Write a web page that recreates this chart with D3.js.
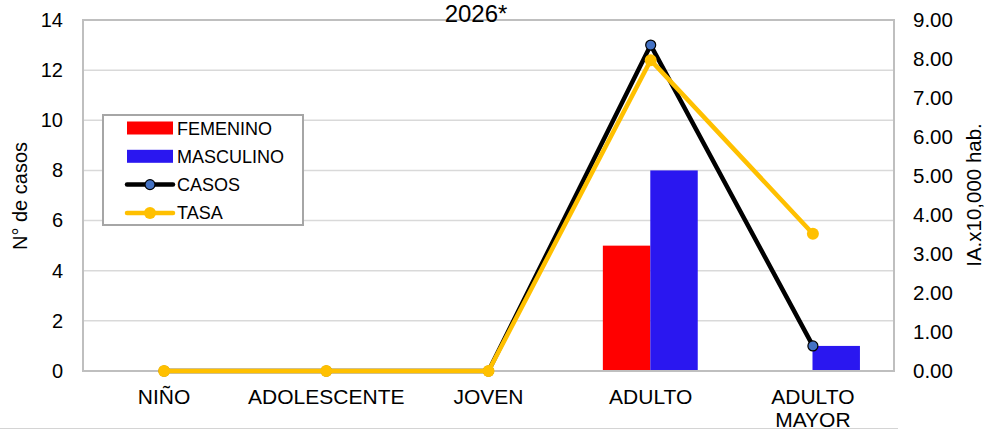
<!DOCTYPE html>
<html>
<head>
  <meta charset="utf-8">
  <script src="https://d3js.org/d3.v7.min.js"></script>
  <style>
    body { margin: 0; background: #fff; }
    text { font-family: Arial, "Liberation Sans", sans-serif; fill: #000; }
  </style>
</head>
<body>
<script>
  // data
  var categories = ["NIÑO", "ADOLESCENTE", "JOVEN", "ADULTO", "ADULTO MAYOR"];
  var femenino  = [0, 0, 0, 5, 0];
  var masculino = [0, 0, 0, 8, 1];
  var casos     = [0, 0, 0, 13, 1];
  var tasa      = [0, 0, 0, 7.97, 3.52];
  var leftTicks  = [0, 2, 4, 6, 8, 10, 12, 14];
  var rightTicks = [0, 1, 2, 3, 4, 5, 6, 7, 8, 9];

  var W = 990, H = 430;
  var plot = {left: 83, top: 20, right: 894, bottom: 371};

  var svg = d3.select("body").append("svg")
      .attr("width", W).attr("height", H);

  var x = d3.scaleBand().domain(categories).range([plot.left, plot.right]).padding(0);
  var bw = x.bandwidth();
  var x1 = d3.scaleBand().domain(["FEMENINO", "MASCULINO"]).range([bw * 0.205, bw * 0.79]);
  var y = d3.scaleLinear().domain([0, 14]).range([plot.bottom, plot.top]);
  var y2 = d3.scaleLinear().domain([0, 9]).range([plot.bottom, plot.top]);

  // faint sheet border at the bottom
  svg.append("line").attr("x1", 0).attr("x2", 898).attr("y1", 428.5).attr("y2", 428.5)
      .attr("stroke", "#d4d4d4").attr("stroke-width", 1);

  // gridlines
  svg.append("g").selectAll("line").data(leftTicks.slice(1, -1)).join("line")
      .attr("x1", plot.left).attr("x2", plot.right)
      .attr("y1", d => y(d)).attr("y2", d => y(d))
      .attr("stroke", "#d9d9d9").attr("stroke-width", 1.5);

  // bars
  var colors = {FEMENINO: "#ff0000", MASCULINO: "#2a17f0"};
  var bars = [];
  categories.forEach(function (c, i) {
    bars.push({cat: c, key: "FEMENINO", v: femenino[i]});
    bars.push({cat: c, key: "MASCULINO", v: masculino[i]});
  });
  svg.append("g").selectAll("rect").data(bars.filter(d => d.v > 0)).join("rect")
      .attr("x", d => x(d.cat) + x1(d.key))
      .attr("width", x1.bandwidth())
      .attr("y", d => y(d.v))
      .attr("height", d => y(0) - y(d.v))
      .attr("fill", d => colors[d.key]);

  // plot border
  svg.append("rect")
      .attr("x", plot.left).attr("y", plot.top)
      .attr("width", plot.right - plot.left).attr("height", plot.bottom - plot.top)
      .attr("fill", "none").attr("stroke", "#bfbfbf").attr("stroke-width", 2);

  // left axis
  var gl = svg.append("g").attr("transform", "translate(" + plot.left + ",0)")
      .call(d3.axisLeft(y).tickValues(leftTicks).tickSize(0).tickPadding(20));
  gl.select(".domain").remove();
  gl.selectAll("text").style("font-size", "20px");

  // right axis
  var gr = svg.append("g").attr("transform", "translate(" + plot.right + ",0)")
      .call(d3.axisRight(y2).tickValues(rightTicks).tickSize(0).tickPadding(19).tickFormat(d3.format(".2f")));
  gr.select(".domain").remove();
  gr.selectAll("text").style("font-size", "20.5px");

  // category labels
  var gx = svg.append("g");
  categories.forEach(function (c) {
    var t = gx.append("text").attr("x", x(c) + bw / 2).attr("y", 404)
        .attr("text-anchor", "middle").style("font-size", "21px");
    var parts = c.split(" ");
    parts.forEach(function (p, j) {
      t.append("tspan").attr("x", x(c) + bw / 2).attr("dy", j === 0 ? 0 : 23).text(p);
    });
  });

  // axis titles
  svg.append("text").attr("transform", "translate(27,196) rotate(-90)")
      .attr("text-anchor", "middle").style("font-size", "20px").text("N° de casos");
  svg.append("text").attr("transform", "translate(981,195) rotate(-90)")
      .attr("text-anchor", "middle").style("font-size", "20.5px").text("IA.x10,000 hab.");

  // title
  svg.append("text").attr("x", 476).attr("y", 22).attr("text-anchor", "middle")
      .style("font-size", "24px").text("2026*");

  // lines
  var cx = d => x(d.cat) + bw / 2;
  var casosPts = categories.map((c, i) => ({cat: c, v: casos[i]}));
  var tasaPts = categories.map((c, i) => ({cat: c, v: tasa[i]}));

  svg.append("path").datum(casosPts)
      .attr("d", d3.line().x(cx).y(d => y(d.v)))
      .attr("fill", "none").attr("stroke", "#000").attr("stroke-width", 4.5);
  svg.append("g").selectAll("circle").data(casosPts).join("circle")
      .attr("cx", cx).attr("cy", d => y(d.v)).attr("r", 5)
      .attr("fill", "#4472c4").attr("stroke", "#000").attr("stroke-width", 1.2);

  svg.append("path").datum(tasaPts)
      .attr("d", d3.line().x(cx).y(d => y2(d.v)))
      .attr("fill", "none").attr("stroke", "#ffc000").attr("stroke-width", 4.5);
  svg.append("g").selectAll("circle").data(tasaPts).join("circle")
      .attr("cx", cx).attr("cy", d => y2(d.v)).attr("r", 6)
      .attr("fill", "#ffc000");

  // legend
  var lg = svg.append("g");
  lg.append("rect").attr("x", 103).attr("y", 115).attr("width", 200).attr("height", 110)
      .attr("fill", "#fff").attr("stroke", "#a6a6a6").attr("stroke-width", 2);
  var items = [
    {name: "FEMENINO", type: "bar", color: colors.FEMENINO},
    {name: "MASCULINO", type: "bar", color: colors.MASCULINO},
    {name: "CASOS", type: "line", color: "#000", marker: "#4472c4"},
    {name: "TASA", type: "line", color: "#ffc000", marker: "#ffc000"}
  ];
  items.forEach(function (it, i) {
    var cy = 128 + i * 28.3;
    if (it.type === "bar") {
      lg.append("rect").attr("x", 127).attr("y", cy - 6.5).attr("width", 46).attr("height", 13)
          .attr("fill", it.color);
    } else {
      lg.append("line").attr("x1", 127).attr("x2", 173).attr("y1", cy).attr("y2", cy)
          .attr("stroke", it.color).attr("stroke-width", 4.5).attr("stroke-linecap", "round");
      lg.append("circle").attr("cx", 150).attr("cy", cy).attr("r", it.name === "CASOS" ? 5 : 6)
          .attr("fill", it.marker)
          .attr("stroke", it.name === "CASOS" ? "#000" : "none").attr("stroke-width", 1.2);
    }
    lg.append("text").attr("x", 177).attr("y", cy + 6.5).style("font-size", "18px").text(it.name);
  });
</script>
</body>
</html>
